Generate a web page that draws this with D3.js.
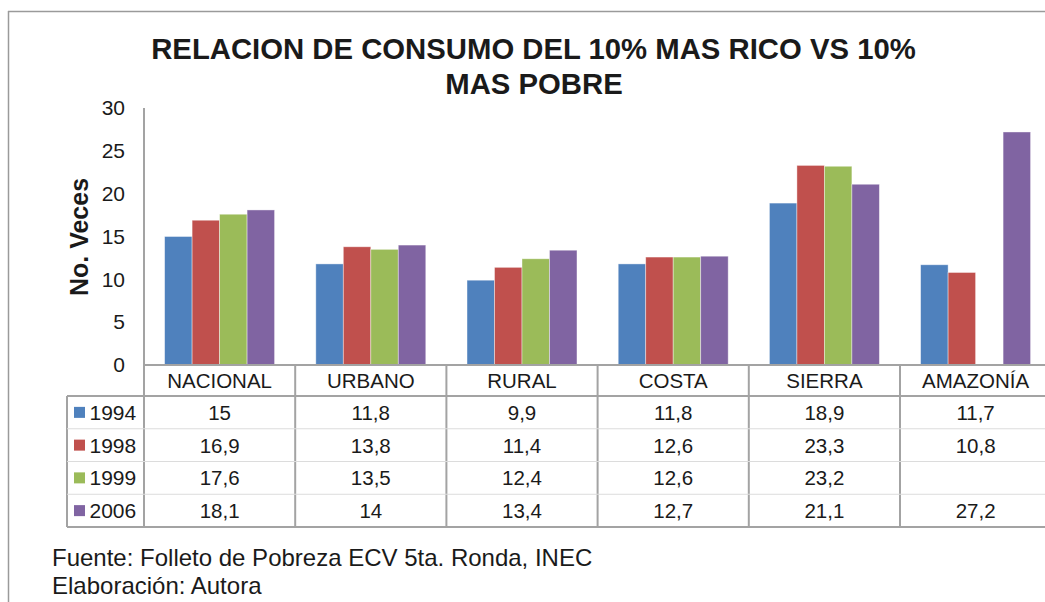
<!DOCTYPE html>
<html>
<head>
<meta charset="utf-8">
<script src="https://cdnjs.cloudflare.com/ajax/libs/d3/7.8.5/d3.min.js"></script>
<style>
  body { margin: 0; background: #fff; }
  svg { display: block; font-family: Arial, "Liberation Sans", sans-serif; }
</style>
</head>
<body>
<svg id="chart"></svg>
<script>
'use strict';
// data
var categories = ['NACIONAL', 'URBANO', 'RURAL', 'COSTA', 'SIERRA', 'AMAZONÍA'];
var years = ['1994', '1998', '1999', '2006'];
var values1994 = [15, 11.8, 9.9, 11.8, 18.9, 11.7];
var values1998 = [16.9, 13.8, 11.4, 12.6, 23.3, 10.8];
var values1999 = [17.6, 13.5, 12.4, 12.6, 23.2, null];
var values2006 = [18.1, 14, 13.4, 12.7, 21.1, 27.2];
var yTicks = [0, 5, 10, 15, 20, 25, 30];
var colors = ['#4F81BD', '#C0504D', '#9BBB59', '#8064A2'];

var series = [values1994, values1998, values1999, values2006];

var canvasWidth = 1045;
var canvasHeight = 602;
var svg = d3.select('#chart')
    .attr('width', canvasWidth)
    .attr('height', canvasHeight);

// outer frame (only top and left edges visible)
svg.append('line').attr('x1', 8).attr('x2', canvasWidth).attr('y1', 11.5).attr('y2', 11.5)
    .attr('stroke', '#9a9a9a').attr('stroke-width', 1.5);
svg.append('line').attr('x1', 8.5).attr('x2', 8.5).attr('y1', 11).attr('y2', canvasHeight)
    .attr('stroke', '#9a9a9a').attr('stroke-width', 1.5);

// title
var title = svg.append('text')
    .attr('text-anchor', 'middle')
    .attr('font-weight', 'bold')
    .attr('font-size', 29.3)
    .attr('fill', '#1a1a1a');
title.append('tspan').attr('x', 533.5).attr('y', 59).text('RELACION DE CONSUMO DEL 10% MAS RICO VS 10%');
title.append('tspan').attr('x', 534).attr('y', 94).text('MAS POBRE');

// scales
var plotLeft = 144;
var colW = 151.2;
var x0 = d3.scaleBand()
    .domain(categories)
    .range([plotLeft, plotLeft + colW * categories.length]);
var x1 = d3.scaleBand()
    .domain(years)
    .range([0, x0.bandwidth()])
    .paddingOuter(0.75)
    .paddingInner(0);
var y = d3.scaleLinear()
    .domain([0, 30])
    .range([365, 108]);

// y axis
var yAxis = d3.axisLeft(y).tickValues(yTicks).tickSize(0).tickPadding(19);
var gy = svg.append('g')
    .attr('transform', 'translate(' + plotLeft + ',0)')
    .call(yAxis);
gy.select('.domain').remove();
gy.selectAll('text')
    .attr('font-size', 21)
    .attr('font-family', 'Arial, "Liberation Sans", sans-serif')
    .attr('fill', '#1a1a1a');

svg.append('text')
    .attr('transform', 'translate(88,237) rotate(-90)')
    .attr('text-anchor', 'middle')
    .attr('font-weight', 'bold')
    .attr('font-size', 25)
    .attr('fill', '#1a1a1a')
    .text('No. Veces');

// bars
var groups = svg.append('g').selectAll('g')
    .data(categories)
    .enter()
    .append('g')
    .attr('transform', function (d) { return 'translate(' + x0(d) + ',0)'; });

groups.selectAll('rect')
    .data(function (d, i) {
        return years.map(function (yr, j) { return {year: yr, value: series[j][i], color: colors[j]}; })
            .filter(function (e) { return e.value != null; });
    })
    .enter()
    .append('rect')
    .attr('x', function (d) { return x1(d.year); })
    .attr('y', function (d) { return y(d.value); })
    .attr('width', x1.bandwidth())
    .attr('height', function (d) { return y(0) - y(d.value); })
    .attr('fill', function (d) { return d.color; })
    .attr('stroke', 'rgba(255,255,255,0.5)')
    .attr('stroke-width', 0.8);

// data table
var lineColor = '#a3a3a3';
var tableTop = 396;
var rowH = 32.75;
var tableBottom = tableTop + rowH * years.length;
var legendLeft = 67;
var right = x0.range()[1];

var grid = svg.append('g').attr('stroke', lineColor).attr('stroke-width', 2);
// faint row separators
for (var r = 1; r < years.length; r++) {
    svg.append('line')
        .attr('x1', legendLeft).attr('x2', right)
        .attr('y1', tableTop + r * rowH).attr('y2', tableTop + r * rowH)
        .attr('stroke', '#dcdcdc').attr('stroke-width', 1);
}
grid.append('line').attr('x1', plotLeft).attr('x2', plotLeft).attr('y1', 108).attr('y2', tableBottom);
grid.append('line').attr('x1', plotLeft).attr('x2', right).attr('y1', y(0)).attr('y2', y(0));
grid.append('line').attr('x1', legendLeft).attr('x2', right).attr('y1', tableTop).attr('y2', tableTop);
grid.append('line').attr('x1', legendLeft).attr('x2', right).attr('y1', tableBottom).attr('y2', tableBottom);
grid.append('line').attr('x1', legendLeft).attr('x2', legendLeft).attr('y1', tableTop).attr('y2', tableBottom);
grid.selectAll('.div')
    .data(categories)
    .enter()
    .append('line')
    .attr('class', 'div')
    .attr('x1', function (d) { return x0(d) + x0.bandwidth(); })
    .attr('x2', function (d) { return x0(d) + x0.bandwidth(); })
    .attr('y1', y(0))
    .attr('y2', tableBottom);

// category header labels
svg.append('g').selectAll('text')
    .data(categories)
    .enter()
    .append('text')
    .attr('x', function (d) { return x0(d) + x0.bandwidth() / 2; })
    .attr('y', 388)
    .attr('text-anchor', 'middle')
    .attr('font-size', 20.5)
    .attr('fill', '#1a1a1a')
    .text(function (d) { return d; });

// legend keys and values
var fmt = function (v) { return v == null ? '' : String(v).replace('.', ','); };
years.forEach(function (yr, j) {
    var cy = tableTop + rowH * j + rowH / 2;
    svg.append('rect')
        .attr('x', 74).attr('y', cy - 5.5)
        .attr('width', 11).attr('height', 11)
        .attr('fill', colors[j]);
    svg.append('text')
        .attr('x', 89.5).attr('y', cy + 7.5)
        .attr('font-size', 21)
        .attr('fill', '#1a1a1a')
        .text(yr);
    svg.append('g').selectAll('text')
        .data(series[j])
        .enter()
        .append('text')
        .attr('x', function (d, i) { return x0(categories[i]) + x0.bandwidth() / 2; })
        .attr('y', cy + 7.5)
        .attr('text-anchor', 'middle')
        .attr('font-size', 20.5)
        .attr('fill', '#1a1a1a')
        .text(fmt);
});

// footer
var foot = svg.append('text')
    .attr('font-size', 24)
    .attr('fill', '#1a1a1a');
foot.append('tspan').attr('x', 52).attr('y', 566).text('Fuente: Folleto de Pobreza ECV 5ta. Ronda, INEC');
foot.append('tspan').attr('x', 52).attr('y', 594).text('Elaboración: Autora');
</script>
</body>
</html>
